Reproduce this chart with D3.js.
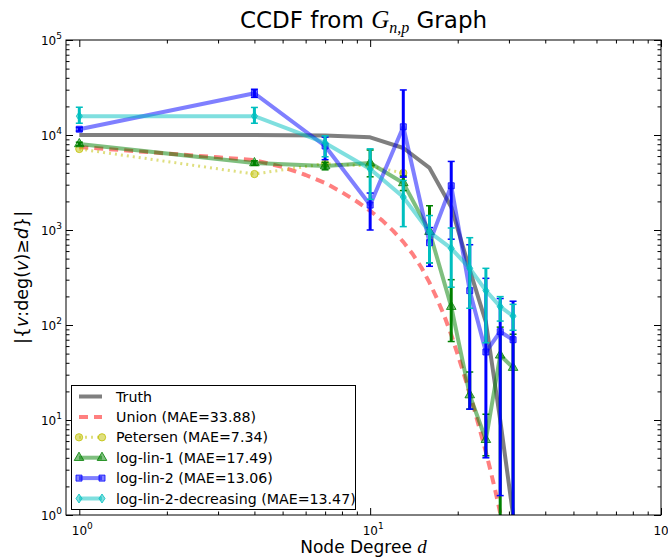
<!DOCTYPE html>
<html>
<head>
<meta charset="utf-8">
<script src="https://cdnjs.cloudflare.com/ajax/libs/d3/7.8.5/d3.min.js"></script>
<style>
  body { margin: 0; background: #fff; }
  svg { display: block; }
  text { font-family: "DejaVu Sans", sans-serif; }
</style>
</head>
<body>
<svg id="chart" width="668" height="558"></svg>
<script>
// Data
const degrees = [1, 4, 7, 10, 13, 16, 19, 22, 25, 28, 31];
const truth = [10000, 10000, 9900, 9460, 7300, 4500, 1750, 380, 107, 10, 1];

const unionDegrees = [1, 2, 3, 4, 5, 6, 7, 8, 9, 10, 11, 12, 13, 14, 15, 16, 17, 18, 19, 20, 21, 22, 23, 24, 25, 26, 27, 28];
const union = [7480, 6385, 5820, 5455, 4603, 3793, 3126, 2494, 1995, 1592, 1262, 979, 750, 559, 403, 279, 188, 124, 79, 49, 30.5, 18.9, 11.7, 7.3, 4.6, 2.84, 1.75, 1.05];

const petersenDegrees = [1, 4, 7, 10, 13];
const petersen = [7130, 3880, 5000, 4700, 3980];

const logLin1 = [8040, 5070, 4720, 5070, 3130, 960, 156, 18.3, 6.2, 48, 35.6];
const logLin1Lo = [7700, 4800, 4300, 3630, 2600, 450, 67, 13, 4.2, 0, 0];
const logLin1Hi = [8400, 5350, 5150, 6950, 3700, 1800, 300, 32, 11.5, 95, 80];

const logLin2 = [11500, 27500, 7660, 1830, 12200, 735, 2920, 230, 52, 85, 70];
const logLin2Lo = [11000, 24900, 5500, 1000, 3600, 415, 800, 13, 4, 1.6, 0];
const logLin2Hi = [12000, 30300, 9500, 2450, 29800, 1060, 5270, 700, 310, 190, 178];

const logLin2Dec = [15800, 15800, 8240, 4380, 2220, 950, 640, 395, 230, 156, 124];
const logLin2DecLo = [13300, 13300, 5900, 2100, 1085, 450, 250, 150, 65, 110, 88];
const logLin2DecHi = [19600, 19500, 9800, 7150, 3320, 1420, 1050, 830, 395, 199, 165];

const xTicks = [1, 10, 100];
const yTicks = [1, 10, 100, 1000, 10000, 100000];
const legendLabels = ["Truth", "Union (MAE=33.88)", "Petersen (MAE=7.34)", "log-lin-1 (MAE=17.49)", "log-lin-2 (MAE=13.06)", "log-lin-2-decreasing (MAE=13.47)"];

// Layout
const plotLeft = 66, plotTop = 40, plotRight = 661, plotBottom = 515;

const svg = d3.select("#chart");

const x = d3.scaleLog().domain([0.9, 100]).range([plotLeft, plotRight]);
const y = d3.scaleLog().domain([1, 100000]).range([plotBottom, plotTop]);

svg.append("clipPath").attr("id", "plot-clip")
  .append("rect")
  .attr("x", plotLeft).attr("y", plotTop)
  .attr("width", plotRight - plotLeft).attr("height", plotBottom - plotTop);

const minorX = [];
[1, 10].forEach(b => d3.range(2, 10).forEach(m => minorX.push(b * m)));
const minorY = [];
[1, 10, 100, 1000, 10000].forEach(b => d3.range(2, 10).forEach(m => minorY.push(b * m)));

// Ticks on all four sides, pointing in
function ticks(axis, vals, size, transform) {
  svg.append("g")
    .attr("transform", transform)
    .call(axis.tickValues(vals).tickSize(-size).tickFormat(""))
    .call(g => g.select(".domain").remove())
    .call(g => g.selectAll("line").attr("stroke", "#000").attr("stroke-width", 1));
}
ticks(d3.axisBottom(x), xTicks, 7, `translate(0,${plotBottom})`);
ticks(d3.axisBottom(x), minorX, 3.5, `translate(0,${plotBottom})`);
ticks(d3.axisTop(x), xTicks, 7, `translate(0,${plotTop})`);
ticks(d3.axisTop(x), minorX, 3.5, `translate(0,${plotTop})`);
ticks(d3.axisLeft(y), yTicks, 7, `translate(${plotLeft},0)`);
ticks(d3.axisLeft(y), minorY, 3.5, `translate(${plotLeft},0)`);
ticks(d3.axisRight(y), yTicks, 7, `translate(${plotRight},0)`);
ticks(d3.axisRight(y), minorY, 3.5, `translate(${plotRight},0)`);

// Tick labels like 10^k
function powLabel(sel, v) {
  const k = Math.round(Math.log10(v));
  sel.append("tspan").text("10");
  sel.append("tspan").attr("dy", -6).attr("font-size", 9).text(k);
}
xTicks.forEach(v => {
  const t = svg.append("text")
    .attr("x", x(v) + 3).attr("y", plotBottom + 20)
    .attr("text-anchor", "middle").attr("font-size", 12);
  powLabel(t, v);
});
yTicks.forEach(v => {
  const t = svg.append("text")
    .attr("x", plotLeft - 4).attr("y", y(v) + 5)
    .attr("text-anchor", "end").attr("font-size", 12);
  powLabel(t, v);
});

// Data layer
const plot = svg.append("g").attr("clip-path", "url(#plot-clip)");
const line = d3.line().x(d => x(d[0])).y(d => y(d[1]));

const thinDiamond = "M0,-4.5L3,0L0,4.5L-3,0Z";
function markerPath(kind) {
  if (kind === "circle") return d3.symbol(d3.symbolCircle, 42)();
  if (kind === "triangle") return d3.symbol(d3.symbolTriangle, 40)();
  if (kind === "square") return d3.symbol(d3.symbolSquare, 36)();
  if (kind === "diamond") return thinDiamond;
  return null;
}

const series = [
  { xs: degrees, vals: truth, color: "#000", width: 4, dash: null, marker: null },
  { xs: unionDegrees, vals: union, color: "#ff0000", width: 4, dash: "9,6", marker: null },
  { xs: petersenDegrees, vals: petersen, color: "#bfbf00", width: 3, dash: "2,4", marker: "circle" },
  { xs: degrees, vals: logLin1, lo: logLin1Lo, hi: logLin1Hi, color: "#008000", width: 4, dash: null, marker: "triangle" },
  { xs: degrees, vals: logLin2, lo: logLin2Lo, hi: logLin2Hi, color: "#0000ff", width: 4, dash: null, marker: "square" },
  { xs: degrees, vals: logLin2Dec, lo: logLin2DecLo, hi: logLin2DecHi, color: "#00bfbf", width: 4, dash: null, marker: "diamond" }
];

series.forEach(s => {
  const pts = s.xs.map((d, i) => [d, s.vals[i]]);
  plot.append("path")
    .attr("d", line(pts))
    .attr("fill", "none")
    .attr("stroke", s.color)
    .attr("stroke-opacity", 0.5)
    .attr("stroke-width", s.width)
    .attr("stroke-dasharray", s.dash)
    .attr("stroke-linejoin", "round");

  if (s.lo) {
    s.xs.forEach((d, i) => {
      const cx = x(d);
      const yTop = y(s.hi[i]);
      const yLow = s.lo[i] > 0 ? y(s.lo[i]) : plotBottom + 20;
      plot.append("line")
        .attr("x1", cx).attr("x2", cx).attr("y1", yTop).attr("y2", yLow)
        .attr("stroke", s.color).attr("stroke-width", 3);
      [yTop, yLow].forEach(cy => {
        plot.append("line")
          .attr("x1", cx - 3.5).attr("x2", cx + 3.5).attr("y1", cy).attr("y2", cy)
          .attr("stroke", s.color).attr("stroke-width", 1.5);
      });
    });
  }

  if (s.marker) {
    plot.selectAll(null).data(pts).enter().append("path")
      .attr("d", markerPath(s.marker))
      .attr("transform", p => `translate(${x(p[0])},${y(p[1])})`)
      .attr("fill", s.color).attr("fill-opacity", 0.5)
      .attr("stroke", s.color).attr("stroke-opacity", 0.8).attr("stroke-width", 1);
  }
});

// Frame
svg.append("rect")
  .attr("x", plotLeft).attr("y", plotTop)
  .attr("width", plotRight - plotLeft).attr("height", plotBottom - plotTop)
  .attr("fill", "none").attr("stroke", "#000").attr("stroke-width", 1);

// Legend
const lg = svg.append("g");
lg.append("rect")
  .attr("x", 71.5).attr("y", 385.5).attr("width", 284).attr("height", 124)
  .attr("fill", "#fff").attr("stroke", "#000").attr("stroke-width", 1);
series.forEach((s, i) => {
  const ly = 396.5 + i * 20.4;
  lg.append("line")
    .attr("x1", 79).attr("x2", 102).attr("y1", ly).attr("y2", ly)
    .attr("stroke", s.color).attr("stroke-opacity", 0.5)
    .attr("stroke-width", s.width).attr("stroke-dasharray", s.dash);
  if (s.marker) {
    [79, 102].forEach(mx => {
      lg.append("path")
        .attr("d", markerPath(s.marker))
        .attr("transform", `translate(${mx},${ly})`)
        .attr("fill", s.color).attr("fill-opacity", 0.5)
        .attr("stroke", s.color).attr("stroke-opacity", 0.8);
    });
  }
  lg.append("text")
    .attr("x", 116).attr("y", ly + 5)
    .attr("font-size", 14.2)
    .text(legendLabels[i]);
});

// Title
const title = svg.append("text")
  .attr("x", (plotLeft + plotRight) / 2).attr("y", 28)
  .attr("text-anchor", "middle").attr("font-size", 23);
title.append("tspan").text("CCDF from ");
title.append("tspan").attr("font-family", "Liberation Serif").attr("font-style", "italic").attr("font-size", 25).text("G");
title.append("tspan").attr("font-family", "Liberation Serif").attr("font-style", "italic").attr("font-size", 16).attr("dy", 5).text("n,p");
title.append("tspan").attr("dy", -5).text(" Graph");

// Axis labels
const xl = svg.append("text")
  .attr("x", (plotLeft + plotRight) / 2).attr("y", 553)
  .attr("text-anchor", "middle").attr("font-size", 17);
xl.append("tspan").text("Node Degree ");
xl.append("tspan").attr("font-family", "Liberation Serif").attr("font-style", "italic").attr("font-size", 19).text("d");

const yl = svg.append("text")
  .attr("transform", `translate(28,${(plotTop + plotBottom) / 2}) rotate(-90)`)
  .attr("text-anchor", "middle")
  .attr("font-family", "Liberation Serif").attr("font-size", 17.5);
yl.append("tspan").text("|{");
yl.append("tspan").attr("font-style", "italic").text("v");
yl.append("tspan").text(":deg(");
yl.append("tspan").attr("font-style", "italic").text("v");
yl.append("tspan").text(")≥");
yl.append("tspan").attr("font-style", "italic").text("d");
yl.append("tspan").text("}|");
</script>
</body>
</html>
